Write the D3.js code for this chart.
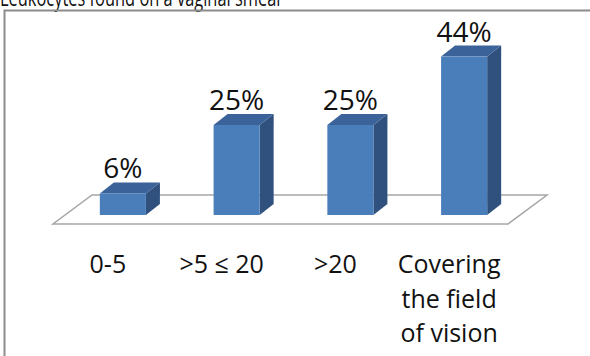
<!DOCTYPE html>
<html><head><meta charset="utf-8">
<script src="https://cdn.jsdelivr.net/npm/d3@7"></script>
<style>body{margin:0;background:#fff}svg{display:block}</style>
</head><body>
<svg id="c" width="590" height="356"></svg>
<script>
const title = "Leukocytes found on a vaginal smear";
const categories = ["0-5", ">5 \u2264 20", ">20", "Covering the field of vision"];
const categoryLines = [["0-5"], [">5 \u2264 20"], [">20"], ["Covering", "the field", "of vision"]];
const values = [6, 25, 25, 44];
const valueLabels = ["6%", "25%", "25%", "44%"];

const svg = d3.select("#c");
const font = "'Open Sans', 'Noto Sans', sans-serif";

// title (cut off at top, as in the reference)
svg.append("text").attr("x", 0).attr("y", 6).attr("font-family", font)
  .attr("font-size", 24).attr("fill", "#111").attr("textLength", 283)
  .attr("lengthAdjust", "spacingAndGlyphs").text(title);

// frame
svg.append("path").attr("d", "M4.5,356 V10.5 H590").attr("fill", "none")
  .attr("stroke", "#8c8c8c").attr("stroke-width", 2);

const x = d3.scaleBand().domain(categories).range([66, 521]).paddingInner(0.595).paddingOuter(0.2975);
const y = d3.scaleLinear().domain([0, 50]).range([215, 35]);
const dx = 14, dy = -11;

// floor
const fx0 = 53, fx1 = 508, fyF = 224, fdx = 39, fdy = -29;
svg.append("path")
  .attr("d", `M${fx0},${fyF} L${fx1},${fyF} L${fx1+fdx},${fyF+fdy} L${fx0+fdx},${fyF+fdy} Z`)
  .attr("fill", "#fff").attr("stroke", "#a6a6a6").attr("stroke-width", 1.5);

const g = svg.append("g").selectAll("g").data(values).join("g");
g.each(function(v, i) {
  const sel = d3.select(this);
  const x0 = x(categories[i]), w = x.bandwidth();
  const yt = y(v), yb = y(0);
  // side
  sel.append("path").attr("d", `M${x0+w},${yb} L${x0+w+dx},${yb+dy} L${x0+w+dx},${yt+dy} L${x0+w},${yt} Z`)
    .attr("fill", "#30517d");
  // top
  sel.append("path").attr("d", `M${x0},${yt} L${x0+w},${yt} L${x0+w+dx},${yt+dy} L${x0+dx},${yt+dy} Z`)
    .attr("fill", "#3b6399");
  // front
  sel.append("rect").attr("x", x0).attr("y", yt).attr("width", w).attr("height", yb - yt)
    .attr("fill", "#4a7ebb");
  // value label
  sel.append("text").attr("x", x0 + w / 2).attr("y", yt + dy - 4).attr("text-anchor", "middle")
    .attr("font-family", font).attr("font-size", 28).attr("fill", "#111").text(valueLabels[i]);
  // category label
  const t = sel.append("text").attr("text-anchor", "middle").attr("font-family", font)
    .attr("font-size", 25).attr("fill", "#111");
  categoryLines[i].forEach((ln, k) => {
    t.append("tspan").attr("x", x0 + w / 2 - 15).attr("y", 273 + k * 34.5).text(ln);
  });
});
</script>
</body></html>
